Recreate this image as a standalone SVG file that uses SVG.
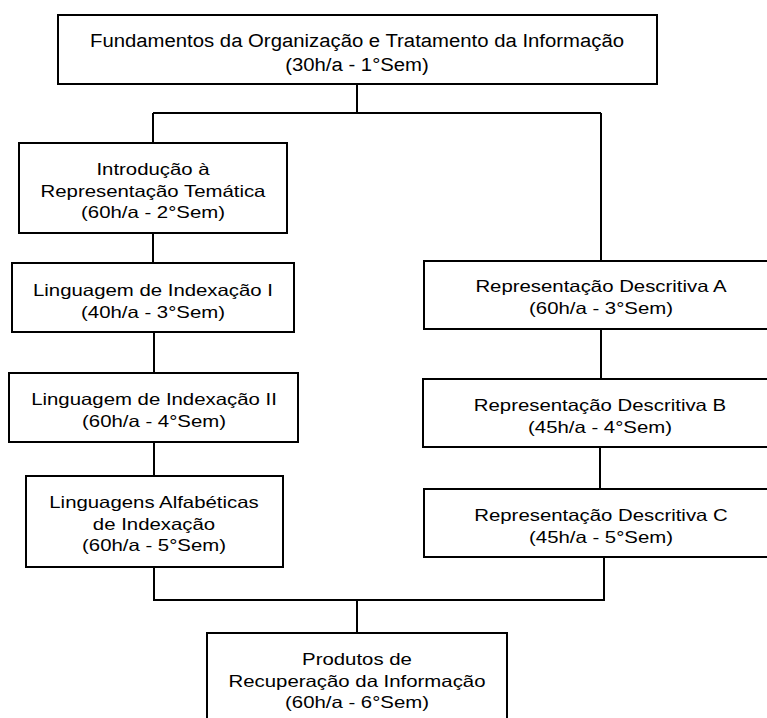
<svg xmlns="http://www.w3.org/2000/svg" width="767" height="718" viewBox="0 0 767 718">
<style>
.box{fill:#fff;stroke:#000;stroke-width:2}
.con{fill:none;stroke:#000;stroke-width:2}
text{font-family:"Liberation Sans",Arial,sans-serif;font-size:16.3px;fill:#000;text-anchor:middle}
text.big{font-size:19px}
</style>
<rect width="767" height="718" fill="#fff"/>
<g id="connectors" class="con">
<path d="M357 84V113M153 113H601M153 113V143M601 113V261"/>
<path d="M153 233V263M154 332V373M154 442V476"/>
<path d="M601 329V379M600 447V489"/>
<path d="M154 567V600H604V557M357 600V633"/>
</g>
<g id="n_fundamentos">
<rect class="box" x="58" y="15" width="599" height="69"/>
<text class="big" transform="translate(357 0) scale(1.07 1)"><tspan x="0" y="47">Fundamentos da Organização e Tratamento da Informação</tspan><tspan x="0" y="71">(30h/a - 1°Sem)</tspan></text>
</g>
<g id="n_intro">
<rect class="box" x="19" y="143" width="268" height="90"/>
<text transform="translate(153 0) scale(1.25 1)"><tspan x="0" y="175">Introdução à</tspan><tspan x="0" y="197">Representação Temática</tspan><tspan x="0" y="218">(60h/a - 2°Sem)</tspan></text>
</g>
<g id="n_ling1">
<rect class="box" x="12" y="263" width="282" height="69"/>
<text transform="translate(153 0) scale(1.25 1)"><tspan x="0" y="296">Linguagem de Indexação I</tspan><tspan x="0" y="318">(40h/a - 3°Sem)</tspan></text>
</g>
<g id="n_ling2">
<rect class="box" x="9" y="373" width="289" height="69"/>
<text transform="translate(154 0) scale(1.25 1)"><tspan x="0" y="405">Linguagem de Indexação II</tspan><tspan x="0" y="427">(60h/a - 4°Sem)</tspan></text>
</g>
<g id="n_alfa">
<rect class="box" x="26" y="476" width="257" height="91"/>
<text transform="translate(154 0) scale(1.25 1)"><tspan x="0" y="508">Linguagens Alfabéticas</tspan><tspan x="0" y="530">de Indexação</tspan><tspan x="0" y="551">(60h/a - 5°Sem)</tspan></text>
</g>
<g id="n_repA">
<rect class="box" x="424" y="261" width="370" height="68"/>
<text transform="translate(601 0) scale(1.25 1)"><tspan x="0" y="292">Representação Descritiva A</tspan><tspan x="0" y="314">(60h/a - 3°Sem)</tspan></text>
</g>
<g id="n_repB">
<rect class="box" x="423" y="379" width="370" height="68"/>
<text transform="translate(600 0) scale(1.25 1)"><tspan x="0" y="411">Representação Descritiva B</tspan><tspan x="0" y="433">(45h/a - 4°Sem)</tspan></text>
</g>
<g id="n_repC">
<rect class="box" x="424" y="489" width="370" height="68"/>
<text transform="translate(601 0) scale(1.25 1)"><tspan x="0" y="521">Representação Descritiva C</tspan><tspan x="0" y="543">(45h/a - 5°Sem)</tspan></text>
</g>
<g id="n_produtos">
<rect class="box" x="207" y="633" width="300" height="110"/>
<text transform="translate(357 0) scale(1.25 1)"><tspan x="0" y="665">Produtos de</tspan><tspan x="0" y="687">Recuperação da Informação</tspan><tspan x="0" y="708">(60h/a - 6°Sem)</tspan></text>
</g>
</svg>
